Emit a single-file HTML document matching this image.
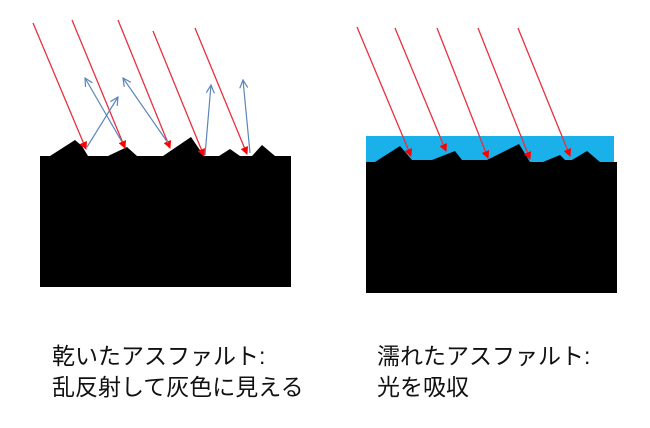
<!DOCTYPE html>
<html><head><meta charset="utf-8"><style>
html,body{margin:0;padding:0;background:#fff;}
body{width:650px;height:428px;position:relative;overflow:hidden;}
.t{position:absolute;font-family:"Liberation Sans","Noto Sans CJK JP",sans-serif;font-size:23px;color:#111;line-height:31px;white-space:nowrap;}
</style></head><body>
<svg width="650" height="428" style="position:absolute;left:0;top:0">
<defs>
<marker id="r" markerWidth="8" markerHeight="8" refX="7" refY="4" orient="auto" markerUnits="userSpaceOnUse"><path d="M0,0 L8,4 L0,8 z" fill="#f00"/></marker>
<marker id="b" markerWidth="10" markerHeight="10" refX="9" refY="5" orient="auto" markerUnits="userSpaceOnUse"><path d="M1,1 L9,5 L1,9" fill="none" stroke="#5b86b8" stroke-width="1.2"/></marker>
</defs>
<path d="M40,156 L50,156 L75,140 L82,146 L88,156 L108,156 L127,147 L137,156 L163,156 L191,137 L204,156 L219,156 L230,149 L240,156 L252,156 L262,145 L275,156 L291,156 L291,287 L40,287 Z" fill="#000"/>
<g stroke="#e83040" stroke-width="1.3" marker-end="url(#r)">
<line x1="33" y1="23" x2="86" y2="149"/>
<line x1="72" y1="20" x2="125" y2="148"/>
<line x1="118" y1="20" x2="170" y2="148"/>
<line x1="153" y1="31" x2="204" y2="156"/>
<line x1="195" y1="28" x2="247" y2="154"/>
</g>
<g stroke="#5b86b8" stroke-width="1.2" marker-end="url(#b)">
<line x1="87" y1="147" x2="118" y2="97"/>
<line x1="122" y1="142" x2="85" y2="78"/>
<line x1="168" y1="143" x2="123" y2="78"/>
<line x1="205" y1="155" x2="211" y2="85"/>
<line x1="250" y1="153" x2="243" y2="80"/>
</g>
<rect x="366" y="136" width="248" height="27" fill="#1ab0ea"/>
<path d="M366,162 L375,162 L400,146 L412,160 L432,160 L455,151 L462,160 L487,160 L519,144 L530,162 L543,162 L560,155 L565,160 L572,160 L587,151 L600,162 L617,162 L617,293 L366,293 Z" fill="#000"/>
<g stroke="#e83040" stroke-width="1.3" marker-end="url(#r)">
<line x1="357" y1="27" x2="411" y2="156"/>
<line x1="395" y1="28" x2="446" y2="151"/>
<line x1="437" y1="28" x2="488" y2="158"/>
<line x1="478" y1="28" x2="530" y2="159"/>
<line x1="518" y1="28" x2="570" y2="156"/>
</g>
</svg>
<div class="t" style="left:52px;top:341px">乾いたアスファルト:<br>乱反射して灰色に見える</div>
<div class="t" style="left:377px;top:341px">濡れたアスファルト:<br>光を吸収</div>
</body></html>
